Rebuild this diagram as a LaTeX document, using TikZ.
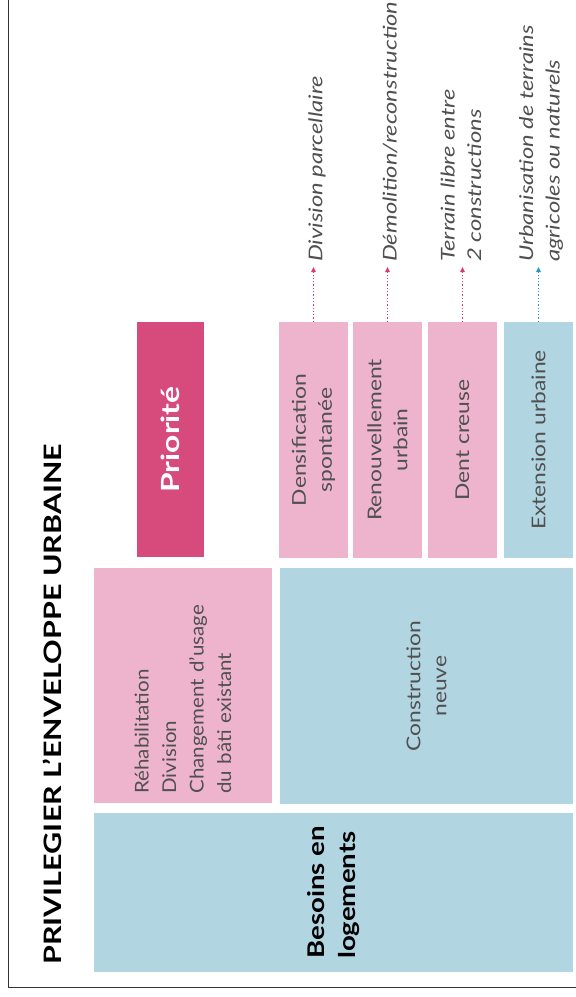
\documentclass[tikz,border=0pt]{standalone}
\usepackage{fontspec}
\setmainfont{Lato}
\newfontfamily\fA{Lato}[FakeStretch=1.2]
\newfontfamily\fT{Lato}[FakeStretch=1.27]
\newfontfamily\fR{Lato}[FakeStretch=1.08]
\newfontfamily\fL{Lato}[FakeStretch=1.25]
\usetikzlibrary{arrows.meta}
\definecolor{bluebox}{RGB}{178,213,226}
\definecolor{pinkbox}{RGB}{238,180,206}
\definecolor{darkpink}{RGB}{214,74,124}
\definecolor{txtgray}{RGB}{80,80,80}
\definecolor{arrpink}{RGB}{214,60,120}
\definecolor{arrblue}{RGB}{40,150,195}
\tikzset{
  box/.style={rotate=90, inner sep=0pt, outer sep=0pt, draw=none, text=txtgray, align=center,
    font=\fA\fontsize{19}{26}\selectfont},
  boldbox/.style={box, text=black, font=\fA\bfseries\fontsize{23}{31}\selectfont},
  lbl/.style={rotate=90, anchor=west, inner sep=0pt, align=left, text=txtgray,
    font=\fL\itshape\fontsize{19}{26.5}\selectfont},
  dotarrow/.style={dotted, line width=1.3pt, -{Triangle[length=5pt,width=4.5pt]}, shorten >=5pt},
}
\begin{document}
\begin{tikzpicture}[x=1pt,y=-1pt]
\useasboundingbox (0,0) rectangle (576,997);
% frame
\draw[line width=0.9pt, black!80] (8,0) -- (8,987) -- (576,987);
% title
\node[rotate=90, anchor=west, inner sep=0pt, font=\fT\bfseries\fontsize{24}{28}\selectfont] (title) at (52,965) {PRIVILEGIER L’ENVELOPPE URBAINE};
% main boxes
\node[boldbox, fill=bluebox, minimum width=159pt, minimum height=479pt, align=left] (besoins) at (333.5,892.5) {Besoins en\\logements};
\node[box, fill=pinkbox, minimum width=235pt, minimum height=178pt, align=left, text width=216pt,
  font=\fR\fontsize{19}{27.5}\selectfont] (rehab) at (183,685.5) {Réhabilitation\\Division\\Changement d’usage\\du bâti existant};
\node[box, fill=bluebox, minimum width=236pt, minimum height=293pt] (constr) at (426.5,686) {Construction\\neuve};
\node[boldbox, text=white, fill=darkpink, minimum width=235pt, minimum height=67pt,
  font=\fT\bfseries\fontsize{25}{30}\selectfont] (prio) at (170.5,439.5) {Priorité};
\node[box, fill=pinkbox, minimum width=236pt, minimum height=69pt] (dens) at (313.5,440) {Densification\\spontanée};
\node[box, fill=pinkbox, minimum width=236pt, minimum height=69pt] (renouv) at (387.5,440) {Renouvellement\\urbain};
\node[box, fill=pinkbox, minimum width=236pt, minimum height=69pt] (dent) at (462.5,440) {Dent creuse};
\node[box, fill=bluebox, minimum width=236pt, minimum height=69pt] (ext) at (538.5,440) {Extension urbaine};
% labels
\node[lbl] (l1) at (317,262) {Division parcellaire};
\node[lbl] (l2) at (390,262) {Démolition/reconstruction};
\node[lbl] (l3) at (461,262) {Terrain libre entre\\2 constructions};
\node[lbl] (l4) at (541,262) {Urbanisation de terrains\\agricoles ou naturels};
% arrows
\draw[dotarrow, arrpink] (dens.east) -- (dens.east |- l1.west);
\draw[dotarrow, arrpink] (renouv.east) -- (renouv.east |- l2.west);
\draw[dotarrow, arrpink] (dent.east) -- (dent.east |- l3.west);
\draw[dotarrow, arrblue] (ext.east) -- (ext.east |- l4.west);
\end{tikzpicture}
\end{document}
